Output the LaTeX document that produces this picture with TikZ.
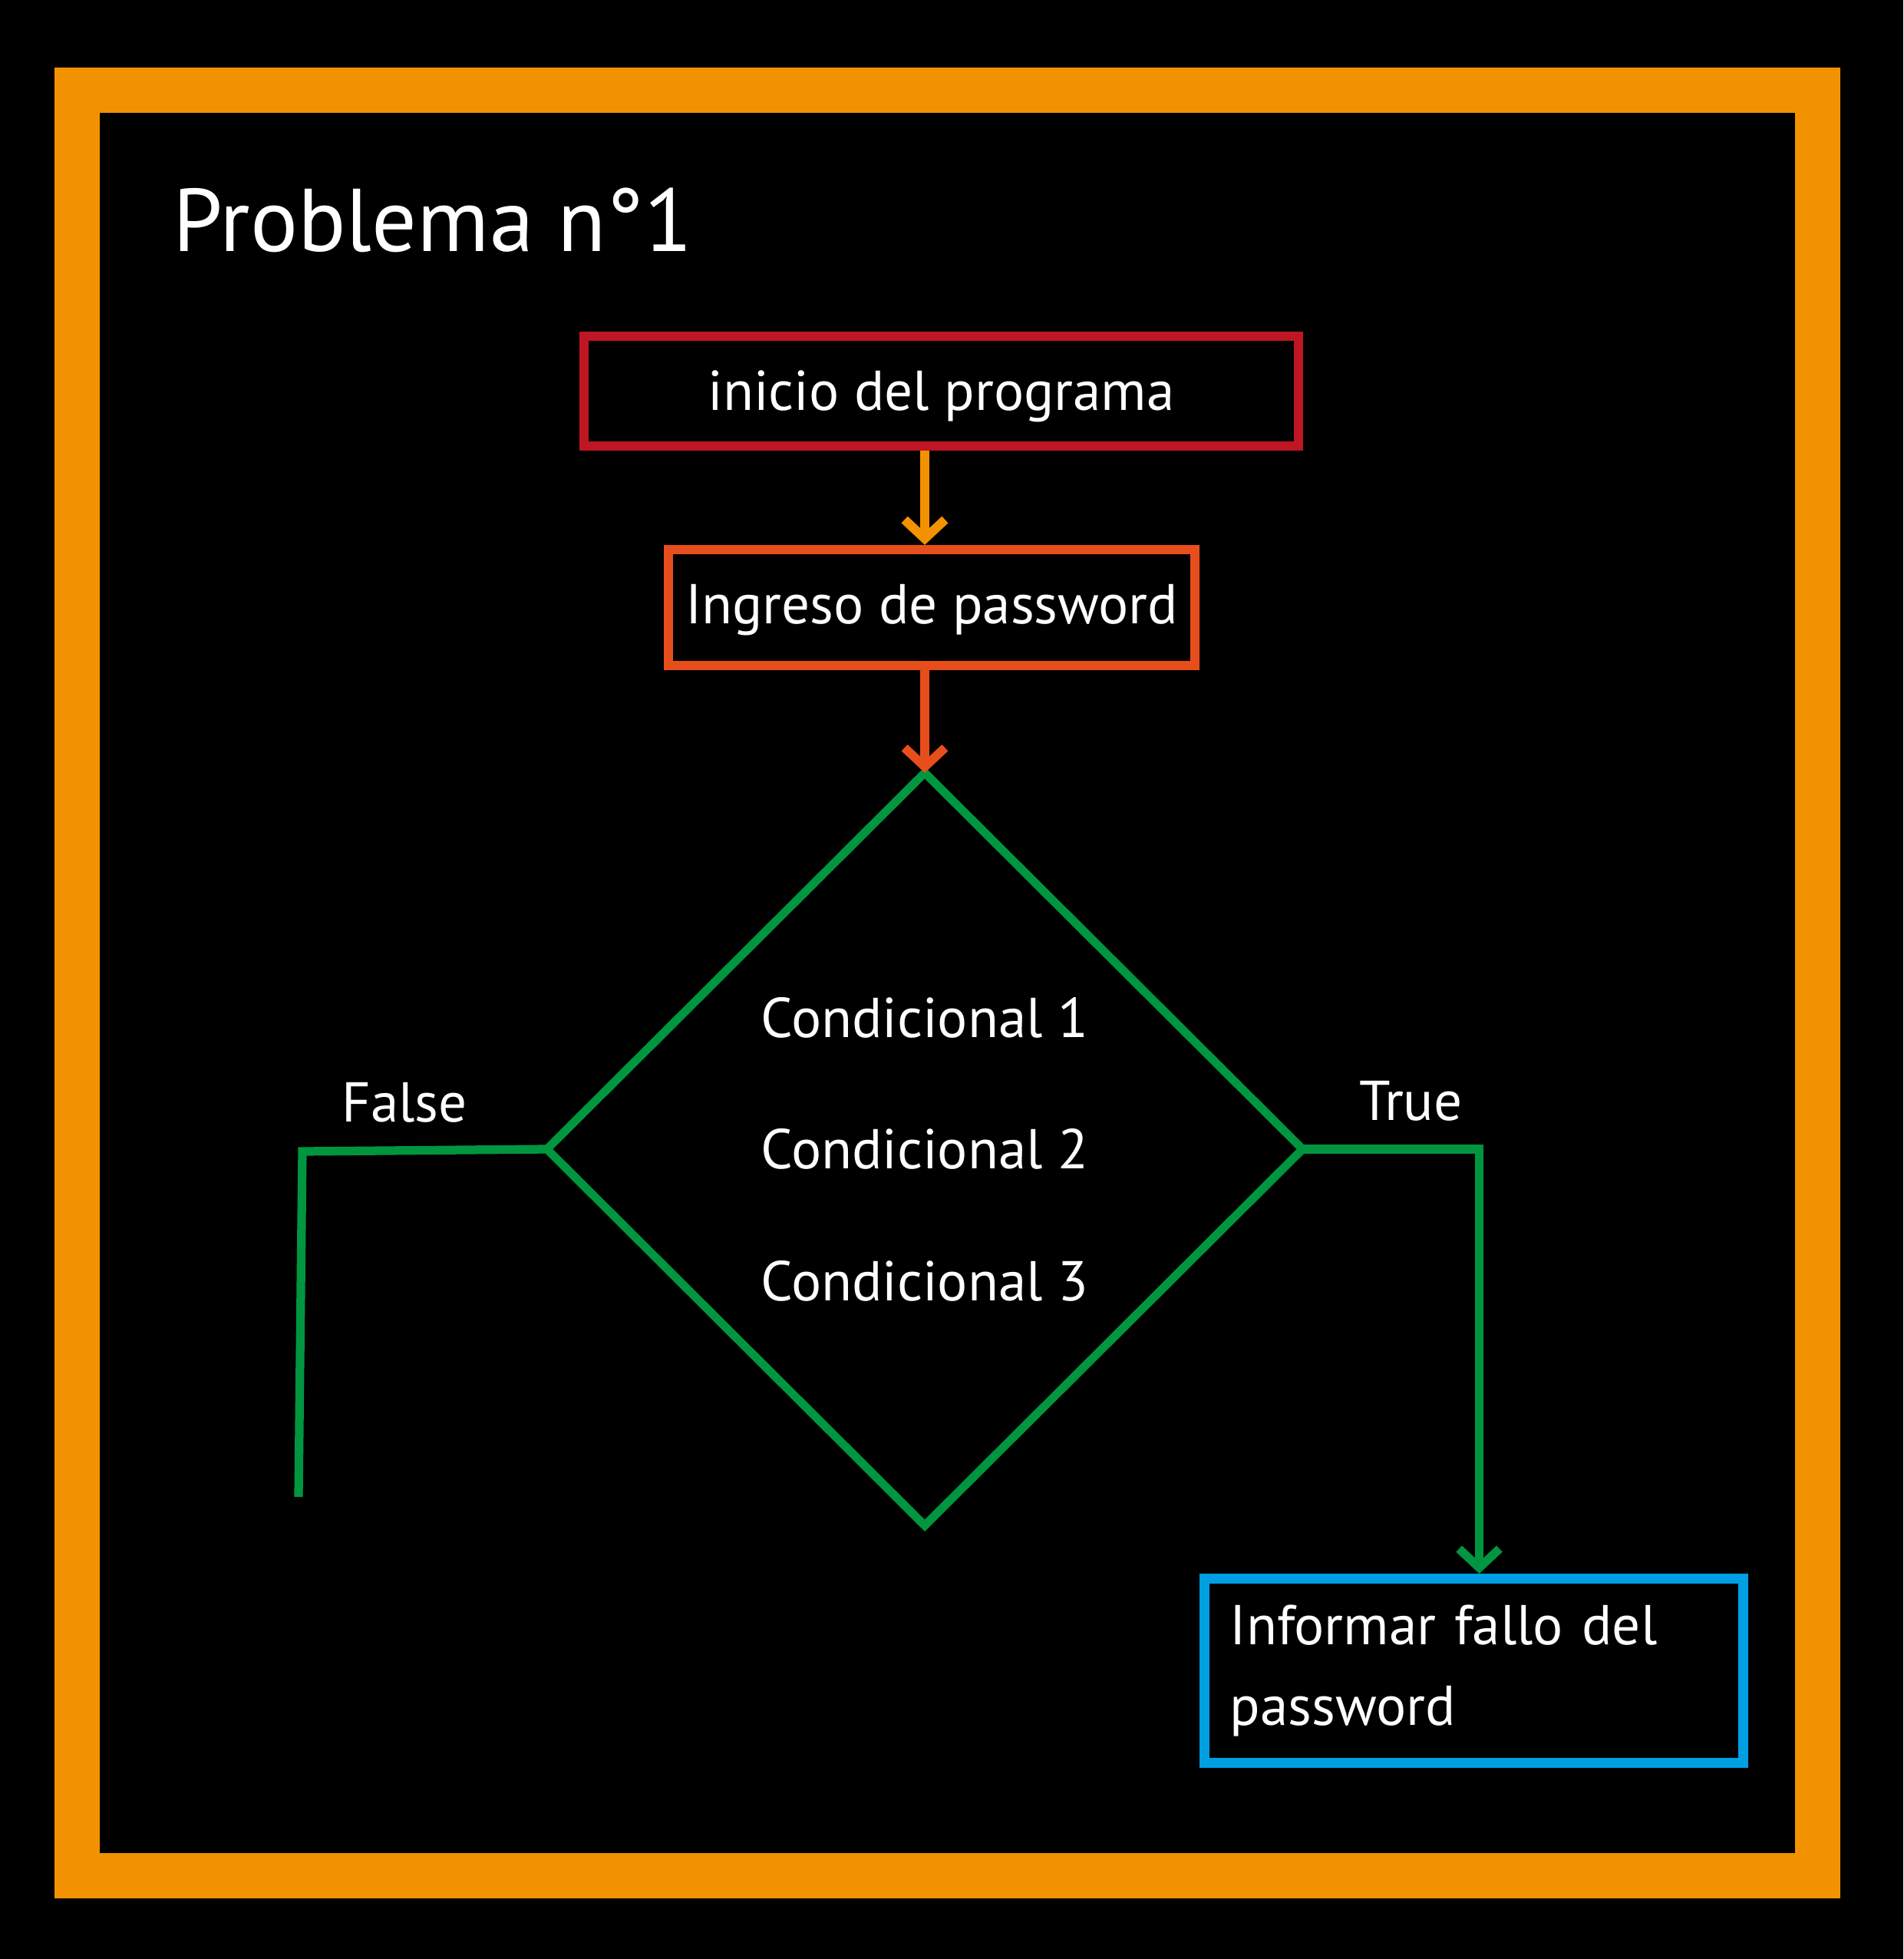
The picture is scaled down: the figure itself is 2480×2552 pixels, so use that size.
\documentclass[tikz,border=0pt]{standalone}
\usepackage{fontspec}
\setmainfont{PT Sans}
\usetikzlibrary{arrows.meta, shapes.geometric, positioning}

\definecolor{frameorange}{RGB}{243,146,0}
\definecolor{startred}{RGB}{190,22,34}
\definecolor{inputorange}{RGB}{232,78,27}
\definecolor{condgreen}{RGB}{0,150,64}
\definecolor{failblue}{RGB}{0,159,227}

\tikzset{
	txt/.style={text=white, font=\fontsize{20.8}{25}\selectfont},
	box/.style={draw, line width=3.5pt, inner sep=0pt, txt},
	oneline/.style={text height=#1, text depth=0pt},
	oneline/.default=0.5cm,
	lbl/.style={txt, anchor=base, inner sep=0pt},
	flow/.style={draw=condgreen, line width=3.2pt},
	tip/.style={-{Straight Barb[length=7pt, width=15pt, sharp]}}
}

\begin{document}
\begin{tikzpicture}[x=0.01cm, y=-0.01cm]
	% Background and page size
	\fill[black] (0,0) rectangle (2480,2552);
	\useasboundingbox (0,0) rectangle (2480,2552);

	% Draw the orange frame
	\draw[frameorange, line width=16.8pt] (100.5,117.5) rectangle (2368.5,2443.5);

	% Title
	\node[txt, font=\fontsize{33}{40}\selectfont, anchor=base west, inner sep=0pt] (title) at (225,328) {Problema n°1};

	% Start and input boxes
	\node[box, oneline, draw=startred, minimum width=9.31cm, minimum height=1.43cm] (inicio) at (1226.5,509.5) {inicio del programa};
	\node[box, oneline=0.42cm, draw=inputorange, minimum width=6.86cm, minimum height=1.51cm] (ingreso) at (1214,791.5) {Ingreso de password};

	% The decision
	\node[diamond, draw=condgreen, line width=3.1pt, minimum width=9.84cm, minimum height=9.8cm, inner sep=0pt, outer sep=0pt, txt, align=center, font=\fontsize{20.8}{48.8}\selectfont] (cond) at (1205,1497) {Condicional 1\\Condicional 2\\Condicional 3};

	% Box for the failure message
	\node[box, draw=failblue, line width=3.7pt, minimum width=7.02cm, minimum height=2.4cm, text width=6.35cm, align=left, font=\fontsize{20.8}{29.6}\selectfont] (fallo) at (1920.5,2176.5) {Informar fallo del\\password};

	% Arrows down to the decision
	\draw[frameorange, line width=3.4pt, tip] (inicio.south -| cond.north) -- (ingreso.north -| cond.north);
	\draw[inputorange, line width=3.3pt, tip] (ingreso.south -| cond.north) -- (cond.north);

	% True branch
	\draw[flow, tip] (cond.east) -| node[lbl, pos=0.306, yshift=0.37cm] {True} ([xshift=0.07cm]fallo.north);

	% False branch, left open
	\coordinate (falseCorner) at (394,1500);
	\coordinate (falseEnd) at (389,1950);
	\draw[flow] (cond.west) -- node[lbl, pos=0.583, yshift=0.37cm] {False} (falseCorner) -- (falseEnd);
\end{tikzpicture}
\end{document}
